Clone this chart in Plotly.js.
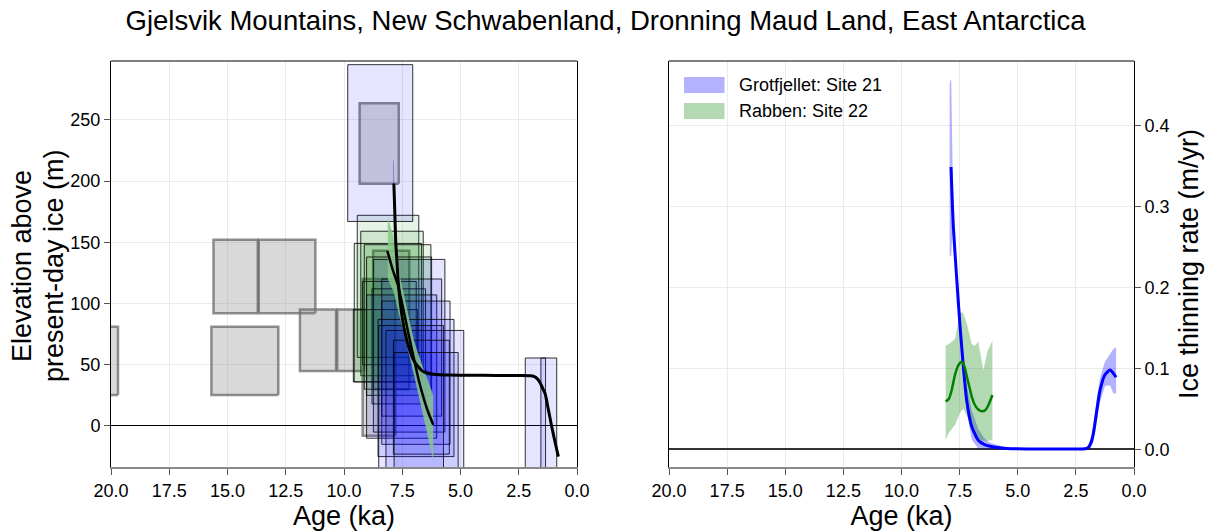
<!DOCTYPE html>
<html>
<head>
<meta charset="utf-8">
<script src="https://cdn.plot.ly/plotly-3.0.1.min.js"></script>
<style>
html, body { margin: 0; padding: 0; background: #fff; }
#chart { width: 1211px; height: 531px; }
</style>
</head>
<body>
<div id="chart"></div>
<script>
// Exposure-age boxes: age range (ka) and elevation range (m above present-day ice)
// Rejected / outlier samples (grey)
const greyAgeMin  = [19.70, 13.70, 11.23, 12.82, 10.34, 9.14, 7.65, 7.20, 7.80];
const greyAgeMax  = [20.60, 15.60, 13.66, 15.69, 11.89, 10.29, 9.33, 8.75, 9.20];
const greyElevMin = [25.3, 92, 92, 25.3, 44.8, 44.8, 197.8, 30, -8];
const greyElevMax = [81, 152, 152, 81, 95, 95, 263.6, 143, 120];

// Grotfjellet, site 21 (blue)
const grotAgeMin  = [7.05, 5.67, 5.81, 6.02, 5.45, 5.28, 4.86, 5.73, 5.48, 5.10, 1.35, 0.87];
const grotAgeMax  = [9.84, 8.74, 8.38, 9.03, 8.38, 8.54, 8.20, 8.51, 7.88, 7.85, 2.22, 1.55];
const grotElevMin = [167, -5, 8, -10, -15, -25, -40, -40, -23, -40, -40, -40];
const grotElevMax = [295, 136, 120, 107, 102, 87, 78, 82, 70, 60, 55.5, 55.5];

// Rabben, site 22 (green)
const rabAgeMin  = [6.79, 6.60, 6.67, 6.27, 6.24, 6.90, 6.50, 6.84];
const rabAgeMax  = [9.43, 9.28, 9.56, 9.13, 9.03, 9.20, 8.80, 9.60];
const rabElevMin = [56, 41, 36, 30, 25, 50, 18, 36];
const rabElevMax = [172, 159, 149, 148, 138, 118, 112, 95];

// Fitted thinning history, Grotfjellet
const grotFitAge  = [7.86, 7.82, 7.78, 7.72, 7.67, 7.55, 7.38, 7.20, 7.02, 6.80, 6.60, 6.40, 6.17, 5.5, 4.5, 3.5, 2.5, 2.0, 1.85, 1.70, 1.59, 1.48, 1.37, 1.23, 1.09, 0.95, 0.80];
const grotFitElev = [198, 175, 150, 132, 117, 95, 76, 63, 54, 48, 44.5, 43, 42.3, 41.6, 41.4, 41.3, 41.2, 41.0, 40.5, 38.5, 35.5, 31, 26.5, 13.5, 0, -12.5, -25];
const grotBandAge = [7.90, 7.86, 7.82, 7.78, 7.72, 7.67, 7.55, 7.38, 7.20, 7.02, 6.80, 6.60, 6.40, 6.17, 5.5, 4.5, 3.5, 2.5, 2.0, 1.85, 1.70, 1.59, 1.48, 1.37, 1.23, 1.09, 0.95, 0.80];
const grotBandLo  = [200, 196, 172, 147, 129, 114, 92, 73, 60, 51, 45, 42, 41, 40.8, 40.6, 40.5, 40.4, 40.3, 40.0, 39.3, 37.2, 34.2, 29.6, 25, 12, -1.5, -14, -26.5];
const grotBandHi  = [218, 216, 180, 154, 136, 121, 99, 80, 67, 58, 52, 47.5, 45, 43.6, 42.5, 42.2, 42.1, 42.0, 41.8, 41.6, 39.6, 36.6, 32.2, 28, 15, 1.5, -11, -23.5];

// Fitted thinning history, Rabben
const rabFitAge  = [8.14, 7.90, 7.67, 7.45, 7.24, 7.00, 6.80, 6.60, 6.40, 6.17];
const rabFitElev = [143, 127, 114, 95, 76, 55, 38, 24, 12, 1];
const rabBandAge = [8.12, 7.88, 7.60, 7.30, 7.00, 6.80, 6.60, 6.40, 6.17];
const rabBandLo  = [120, 110, 88, 65, 42, 26, 10, -8, -28];
const rabBandHi  = [170, 155, 122, 95, 70, 58, 48, 37, 25];

// Ice thinning rate (m/yr), Grotfjellet
const grotRateAge  = [7.87, 7.77, 7.63, 7.48, 7.34, 7.20, 6.98, 6.70, 6.45, 6.19, 5.48, 4.5, 3.5, 2.5, 2.1, 1.97, 1.85, 1.75, 1.60, 1.46, 1.25, 1.03, 0.89, 0.77];
const grotRate     = [0.349, 0.275, 0.213, 0.151, 0.102, 0.061, 0.028, 0.011, 0.006, 0.0037, 0.001, 0.0003, 0.0002, 0.0002, 0.0005, 0.002, 0.008, 0.019, 0.048, 0.073, 0.092, 0.098, 0.094, 0.089];
const grotRateBandAge = [7.93, 7.90, 7.86, 7.80, 7.77, 7.63, 7.48, 7.34, 7.20, 6.98, 6.70, 6.45, 6.19, 5.48, 4.5, 3.5, 2.5, 2.1, 1.97, 1.85, 1.75, 1.60, 1.46, 1.25, 1.03, 0.89, 0.77];
const grotRateLo   = [0.240, 0.238, 0.240, 0.275, 0.262, 0.200, 0.140, 0.090, 0.048, 0.012, 0.001, 0, 0, 0, 0, 0, 0, 0, 0, 0.002, 0.009, 0.033, 0.058, 0.078, 0.079, 0.069, 0.069];
const grotRateHi   = [0.450, 0.457, 0.455, 0.300, 0.288, 0.228, 0.165, 0.118, 0.080, 0.048, 0.025, 0.014, 0.008, 0.002, 0.0008, 0.0005, 0.0005, 0.002, 0.005, 0.015, 0.030, 0.062, 0.088, 0.108, 0.118, 0.124, 0.126];

// Ice thinning rate (m/yr), Rabben
const rabRateAge = [8.10, 7.97, 7.85, 7.70, 7.55, 7.41, 7.30, 7.19, 7.08, 6.98, 6.85, 6.70, 6.55, 6.41, 6.27, 6.09];
const rabRate    = [0.059, 0.062, 0.072, 0.092, 0.104, 0.108, 0.103, 0.090, 0.077, 0.065, 0.055, 0.049, 0.047, 0.048, 0.054, 0.067];
const rabRateBandAge = [8.10, 7.97, 7.70, 7.48, 7.34, 7.19, 6.98, 6.85, 6.70, 6.48, 6.30, 6.09];
const rabRateLo  = [0.011, 0.020, 0.030, 0.045, 0.050, 0.042, 0.030, 0.022, 0.013, 0.010, 0.010, 0.011];
const rabRateHi  = [0.128, 0.130, 0.136, 0.170, 0.168, 0.155, 0.130, 0.128, 0.133, 0.098, 0.121, 0.134];

const xTickVals = [20, 17.5, 15, 12.5, 10, 7.5, 5, 2.5, 0];
const legendNames = ['Grotfjellet: Site 21', 'Rabben: Site 22'];
const legendFills = ['rgba(0,0,255,0.3)', 'rgba(0,128,0,0.3)'];

const BLUE = 'rgb(0,0,255)';
const GREEN = 'rgb(0,128,0)';
const FONT = '"Liberation Sans", Arial, Helvetica, sans-serif';
const W = 1211, H = 531;

const traces = [];

function addBoxes(a0s, a1s, e0s, e1s, fill, lineColor, lineWidth) {
  for (let i = 0; i < a0s.length; i++) {
    traces.push({
      type: 'scatter', mode: 'lines', xaxis: 'x', yaxis: 'y',
      x: [a0s[i], a1s[i], a1s[i], a0s[i], a0s[i]],
      y: [e0s[i], e0s[i], e1s[i], e1s[i], e0s[i]],
      fill: 'toself', fillcolor: fill,
      line: { color: lineColor, width: lineWidth },
      showlegend: false, hoverinfo: 'skip'
    });
  }
}

function band(ages, lo, hi, fill, xa, ya) {
  return {
    type: 'scatter', mode: 'lines', xaxis: xa, yaxis: ya,
    x: ages.concat(ages.slice().reverse()),
    y: hi.concat(lo.slice().reverse()),
    fill: 'toself', fillcolor: fill,
    line: { width: 0, color: fill },
    showlegend: false, hoverinfo: 'skip'
  };
}

function line(ages, vals, color, width, xa, ya) {
  return {
    type: 'scatter', mode: 'lines', xaxis: xa, yaxis: ya,
    x: ages, y: vals, line: { color: color, width: width, shape: 'spline', smoothing: 0.6 },
    showlegend: false, hoverinfo: 'skip'
  };
}

// Left panel: sample boxes, then fitted histories
addBoxes(greyAgeMin, greyAgeMax, greyElevMin, greyElevMax, 'rgba(128,128,128,0.3)', 'rgba(105,105,105,0.75)', 2.5);
addBoxes(rabAgeMin, rabAgeMax, rabElevMin, rabElevMax, 'rgba(0,128,0,0.1)', 'rgba(0,0,0,0.8)', 1);
addBoxes(grotAgeMin, grotAgeMax, grotElevMin, grotElevMax, 'rgba(0,0,255,0.1)', 'rgba(0,0,0,0.8)', 1);

traces.push(band(grotBandAge, grotBandLo, grotBandHi, 'rgba(0,0,255,0.3)', 'x', 'y'));
traces.push(band(rabBandAge, rabBandLo, rabBandHi, 'rgba(135,200,135,0.85)', 'x', 'y'));
traces.push(line(grotFitAge, grotFitElev, 'black', 3, 'x', 'y'));
traces.push(line(rabFitAge, rabFitElev, 'black', 2.5, 'x', 'y'));

// Right panel: thinning rates
traces.push(band(grotRateBandAge, grotRateLo, grotRateHi, legendFills[0], 'x2', 'y2'));
traces.push(band(rabRateBandAge, rabRateLo, rabRateHi, legendFills[1], 'x2', 'y2'));
traces.push(line(grotRateAge, grotRate, BLUE, 3, 'x2', 'y2'));
traces.push(line(rabRateAge, rabRate, GREEN, 2.5, 'x2', 'y2'));

const tickFont = { family: FONT, size: 18, color: '#000' };
const titleFont = { family: FONT, size: 27, color: '#000' };

function xAxis(domain, anchor) {
  return {
    domain: domain, anchor: anchor, range: [20, 0],
    tickvals: xTickVals, tickformat: '.1f',
    ticks: 'outside', ticklen: 6, tickcolor: '#555', tickwidth: 1,
    showline: true, linecolor: '#888', linewidth: 2, mirror: false,
    showgrid: true, gridcolor: '#ebebeb', gridwidth: 1, zeroline: false,
    tickfont: tickFont,
    title: { text: 'Age (ka)', font: titleFont, standoff: 4 }
  };
}

// Legend block drawn as paper-space swatches with labels
const legendShapes = [], legendLabels = [];
const legendRows = [[77, 93], [103, 119]];
legendNames.forEach((name, i) => {
  const [top, bot] = legendRows[i];
  legendShapes.push({
    type: 'rect', xref: 'paper', yref: 'paper',
    x0: 684 / W, x1: 724.5 / W, y0: 1 - bot / H, y1: 1 - top / H,
    fillcolor: legendFills[i], line: { width: 0 }
  });
  legendLabels.push({
    xref: 'paper', yref: 'paper', x: 737 / W, y: 1 - (top + bot) / 2 / H,
    xanchor: 'left', yanchor: 'middle', showarrow: false,
    text: name, font: { family: FONT, size: 18, color: '#000' }
  });
});

// Two-line left axis title
const leftTitle = [['Elevation above', 22], ['present-day ice (m)', 54]].map(([t, px]) => ({
  xref: 'paper', yref: 'paper', x: px / W, y: 1 - 266 / H,
  xanchor: 'center', yanchor: 'middle', textangle: -90, showarrow: false,
  text: t, font: titleFont
}));

const layout = {
  width: W, height: H,
  margin: { l: 0, r: 0, t: 0, b: 0 },
  paper_bgcolor: '#fff', plot_bgcolor: '#fff',
  font: { family: FONT, color: '#000' },
  title: {
    text: 'Gjelsvik Mountains, New Schwabenland, Dronning Maud Land, East Antarctica',
    font: { family: FONT, size: 27.5, color: '#000' },
    x: 0.5, xanchor: 'center', y: 1 - 20 / H, yanchor: 'middle', xref: 'paper', yref: 'paper'
  },
  showlegend: false,
  xaxis: xAxis([111 / W, 577 / W], 'y'),
  yaxis: {
    domain: [1 - 467 / H, 1 - 61 / H], anchor: 'x', range: [-33.5, 298],
    tickvals: [0, 50, 100, 150, 200, 250],
    ticks: 'outside', ticklen: 6, tickcolor: '#555',
    showline: true, linecolor: '#000', linewidth: 1, mirror: true,
    showgrid: true, gridcolor: '#ebebeb',
    zeroline: true, zerolinecolor: '#000', zerolinewidth: 1,
    tickfont: tickFont
  },
  xaxis2: xAxis([669 / W, 1134 / W], 'y2'),
  yaxis2: {
    domain: [1 - 467 / H, 1 - 61 / H], anchor: 'x2', side: 'right', range: [-0.022, 0.48],
    tickvals: [0, 0.1, 0.2, 0.3, 0.4], tickformat: '.1f',
    ticks: 'outside', ticklen: 6, tickcolor: '#555',
    showline: true, linecolor: '#000', linewidth: 1, mirror: true,
    showgrid: true, gridcolor: '#ebebeb',
    zeroline: true, zerolinecolor: '#333', zerolinewidth: 2,
    tickfont: tickFont,
    title: { text: 'Ice thinning rate (m/yr)', font: titleFont, standoff: 10 }
  },
  shapes: [
    { type: 'line', xref: 'x domain', yref: 'y domain', x0: 0, x1: 1, y0: 1, y1: 1, line: { color: '#000', width: 1 } },
    { type: 'line', xref: 'x2 domain', yref: 'y2 domain', x0: 0, x1: 1, y0: 1, y1: 1, line: { color: '#000', width: 1 } }
  ].concat(legendShapes),
  annotations: leftTitle.concat(legendLabels)
};

Plotly.newPlot('chart', traces, layout, { displayModeBar: false, staticPlot: true });
</script>
</body>
</html>
